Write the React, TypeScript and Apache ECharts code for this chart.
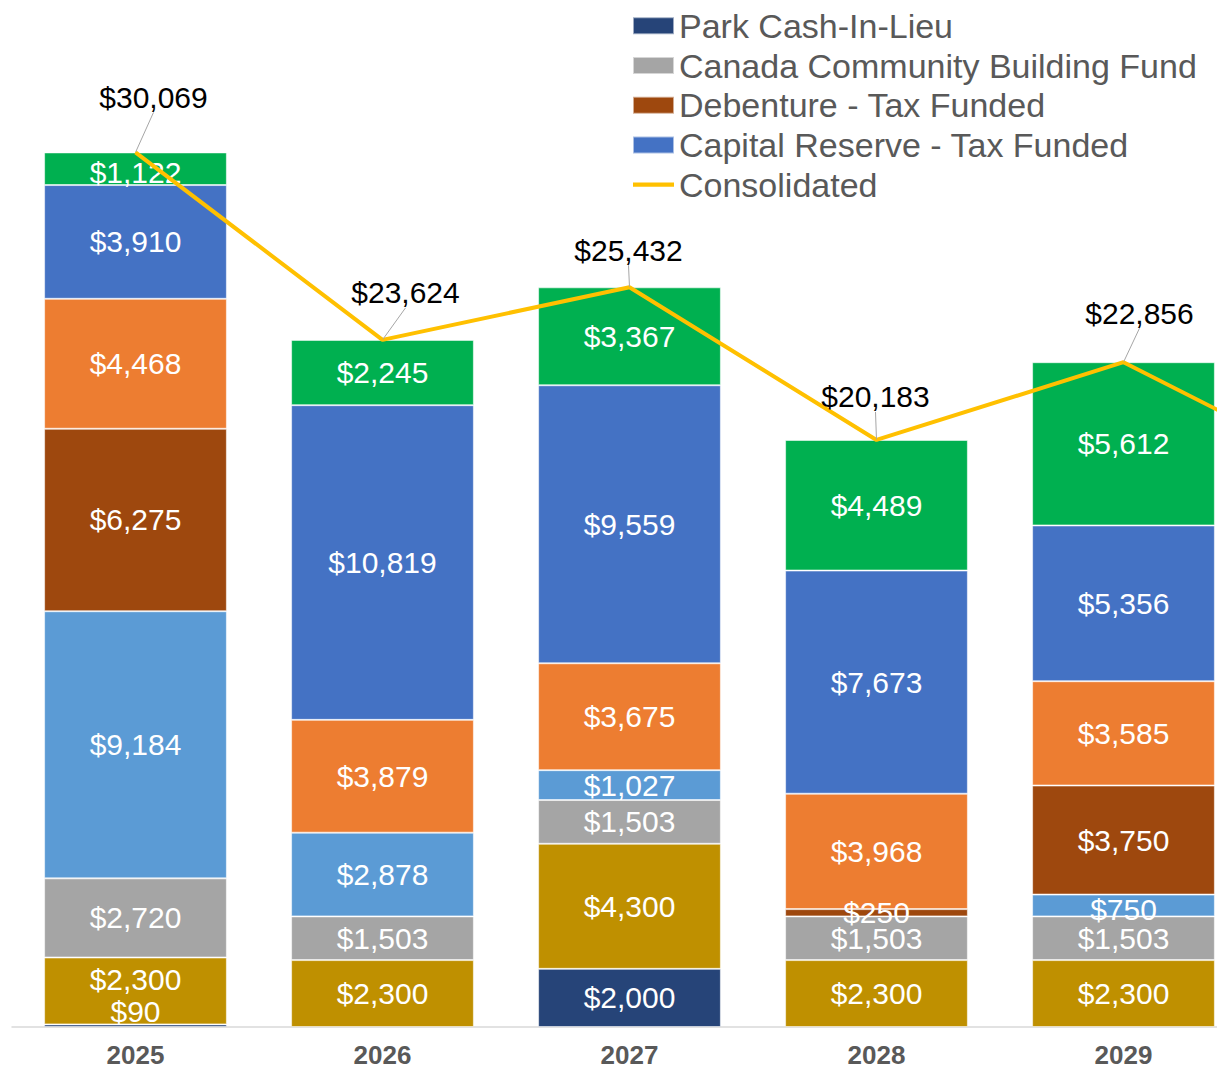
import React, { useEffect, useRef } from "react";
import * as echarts from "echarts";

// ---- data ----
const categories = ["2025", "2026", "2027", "2028", "2029", "2030"];
const parkCashInLieu = [90, null, 2000, null, null, null];
const goldSource = [2300, 2300, 4300, 2300, 2300, null];
const canadaCommunityBuildingFund = [2720, 1503, 1503, 1503, 1503, null];
const lightBlueSource = [9184, 2878, 1027, null, 750, null];
const debentureTaxFunded = [6275, null, null, 250, 3750, null];
const orangeSource = [4468, 3879, 3675, 3968, 3585, null];
const capitalReserveTaxFunded = [3910, 10819, 9559, 7673, 5356, null];
const greenSource = [1122, 2245, 3367, 4489, 5612, null];
const consolidated = [30069, 23624, 25432, 20183, 22856, 18550];

const legendNames = [
  "Park Cash-In-Lieu",
  "Canada Community Building Fund",
  "Debenture - Tax Funded",
  "Capital Reserve - Tax Funded",
  "Consolidated",
];

const FONT = "'Liberation Sans', Arial, Helvetica, sans-serif";

const fmt = (v: any) => {
  const n = typeof v === "object" && v !== null ? v.value : v;
  if (n === null || n === undefined || n === "-") return "";
  return "$" + Number(n).toLocaleString("en-US");
};

export default function App() {
  const ref = useRef<HTMLDivElement>(null);

  useEffect(() => {
    if (!ref.current) return;
    const chart = echarts.init(ref.current, undefined, { renderer: "svg" });

    const stackDefs: { name: string; data: (number | null)[]; color: string; offsets?: Record<number, number[]> }[] = [
      { name: "Park Cash-In-Lieu", data: parkCashInLieu, color: "#264478", offsets: { 0: [0, -14] } },
      { name: "Source (gold)", data: goldSource, color: "#BF9000", offsets: { 0: [0, -11] } },
      { name: "Canada Community Building Fund", data: canadaCommunityBuildingFund, color: "#A5A5A5" },
      { name: "Source (light blue)", data: lightBlueSource, color: "#5B9BD5", offsets: { 4: [0, 4] } },
      { name: "Debenture - Tax Funded", data: debentureTaxFunded, color: "#9E480E" },
      { name: "Source (orange)", data: orangeSource, color: "#ED7D31" },
      { name: "Capital Reserve - Tax Funded", data: capitalReserveTaxFunded, color: "#4472C4" },
      { name: "Source (green)", data: greenSource, color: "#00B050", offsets: { 0: [0, 4] } },
    ];

    const barSeries = stackDefs.map((d) => ({
      type: "bar",
      name: d.name,
      stack: "total",
      barWidth: "74%",
      data: d.data.map((v, i) =>
        d.offsets && d.offsets[i] ? { value: v, label: { offset: d.offsets[i] } } : v
      ),
      itemStyle: { color: d.color, borderColor: "rgba(255,255,255,0.55)", borderWidth: 1 },
      label: {
        show: true,
        position: "inside",
        color: "#FFFFFF",
        fontSize: 30,
        fontFamily: FONT,
        formatter: (p: any) => fmt(p.value),
      },
      emphasis: { disabled: true },
    }));

    const totalShift = [
      [18, -55],
      [23, -47],
      [-1, -37],
      [-1, -43],
      [16, -49],
    ];

    const option: any = {
      animation: false,
      backgroundColor: "#FFFFFF",
      textStyle: { fontFamily: FONT },
      grid: { left: 12, right: 0, top: 9, bottom: 43, containLabel: false },
      legend: {
        orient: "vertical",
        left: 627,
        top: 1,
        itemWidth: 41,
        itemHeight: 17,
        itemGap: 0,
        selectedMode: false,
        textStyle: { fontSize: 34, color: "#595959", lineHeight: 39.7, fontFamily: FONT },
        data: legendNames.map((n) =>
          n === "Consolidated"
            ? { name: n, icon: "path://M0,0H40V4H0Z", itemStyle: { color: "#FFC000" } }
            : { name: n, icon: "rect" }
        ),
      },
      xAxis: {
        type: "category",
        data: categories,
        axisTick: { show: false },
        axisLine: { lineStyle: { color: "#D9D9D9", width: 1.5 } },
        axisLabel: {
          fontSize: 26,
          lineHeight: 24,
          fontWeight: "bold",
          color: "#595959",
          fontFamily: FONT,
          margin: 16,
          interval: (index: number) => index < 5,
        },
      },
      yAxis: {
        type: "value",
        min: 0,
        max: 35000,
        show: false,
        splitLine: { show: false },
      },
      series: [
        ...barSeries,
        {
          type: "line",
          name: "Consolidated",
          z: 10,
          data: consolidated.map((v, i) => (i < 5 ? v : { value: v, label: { show: false } })),
          symbol: "circle",
          symbolSize: 1,
          showSymbol: true,
          lineStyle: { color: "#FFC000", width: 4 },
          itemStyle: { color: "#FFC000" },
          label: {
            show: true,
            position: "inside",
            color: "#000000",
            fontSize: 30,
            fontFamily: FONT,
            formatter: (p: any) => fmt(p.value),
          },
          labelLine: { show: true, lineStyle: { color: "#A6A6A6", width: 1 } },
          labelLayout: (params: any) => {
            const s = totalShift[params.dataIndex];
            return s ? { dx: s[0], dy: s[1] } : {};
          },
          emphasis: { disabled: true },
        },
      ],
    };

    chart.setOption(option);
    return () => chart.dispose();
  }, []);

  return (
    <div
      style={{
        position: "fixed",
        left: 0,
        top: 0,
        width: 1217,
        height: 1070,
        overflow: "hidden",
        background: "#fff",
      }}
    >
      <div ref={ref} style={{ width: 1494, height: 1070 }} />
    </div>
  );
}
